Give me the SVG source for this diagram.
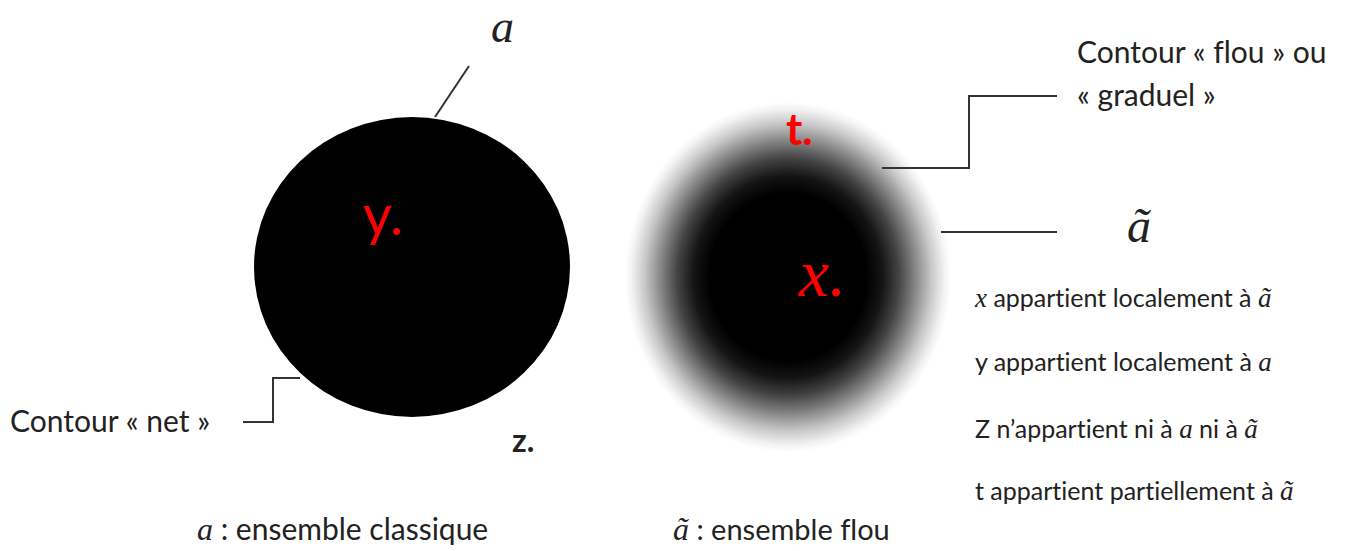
<svg xmlns="http://www.w3.org/2000/svg" width="1345" height="551" viewBox="0 0 1345 551">
<style>
.t{font-family:Lato,"Open Sans","Liberation Sans",sans-serif;fill:#222;font-variant-ligatures:none;font-feature-settings:"liga" 0,"clig" 0}
.m{font-family:"Liberation Serif","DejaVu Serif",serif;font-style:italic}
.ln{fill:none;stroke:#333;stroke-width:2}
.red{fill:#f00}
</style>
<defs>
<radialGradient id="fuzzy" cx="0.5" cy="0.5" r="0.5">
<stop offset="0" stop-color="#000"/>
<stop offset="0.48" stop-color="#000"/>
<stop offset="0.58" stop-color="#151515"/>
<stop offset="0.68" stop-color="#444"/>
<stop offset="0.78" stop-color="#858585"/>
<stop offset="0.88" stop-color="#c8c8c8"/>
<stop offset="0.96" stop-color="#f2f2f2"/>
<stop offset="1" stop-color="#fff"/>
</radialGradient>
</defs>
<rect width="1345" height="551" fill="#fff"/>
<g id="classic-set">
<ellipse cx="412" cy="267" rx="158" ry="150" fill="#000"/>
<text class="t red" x="363" y="235" font-size="56">y.</text>
</g>
<g id="fuzzy-set">
<ellipse cx="788" cy="277" rx="163" ry="175" fill="url(#fuzzy)"/>
<text class="t red" x="786" y="145" font-size="44" font-weight="bold">t.</text>
<text class="m red" x="799" y="296" font-size="68">x.</text>
</g>
<g id="point-z">
<text class="t" x="512" y="452" font-size="32" font-weight="bold" fill="#111">z.</text>
</g>
<g id="connectors">
<path class="ln" d="M435 117 L469 66"/>
<path class="ln" d="M243 422 H273 V378 H300"/>
<path class="ln" d="M882 168 H969 V96 H1057"/>
<path class="ln" d="M941 232 H1057"/>
</g>
<g id="label-a">
<text class="m" x="491" y="42" font-size="46" fill="#222">a</text>
</g>
<g id="label-net">
<text class="t" x="10" y="432" font-size="30">Contour « net »</text>
</g>
<g id="label-flou">
<text class="t" x="1077" y="63" font-size="30">Contour « flou » ou</text>
<text class="t" x="1077" y="106" font-size="30">« graduel »</text>
</g>
<g id="label-atilde">
<text class="m" x="1127" y="242" font-size="48" fill="#222">ã</text>
</g>
<g id="legend">
<text class="t" x="975" y="307" font-size="25"><tspan class="m" font-size="27">x</tspan> appartient localement à <tspan class="m" font-size="27">ã</tspan></text>
<text class="t" x="975" y="371" font-size="25">y appartient localement à <tspan class="m" font-size="27">a</tspan></text>
<text class="t" x="975" y="438" font-size="25">Z n’appartient ni à <tspan class="m" font-size="27">a</tspan> ni à <tspan class="m" font-size="27">ã</tspan></text>
<text class="t" x="975" y="500" font-size="25">t appartient partiellement à <tspan class="m" font-size="27">ã</tspan></text>
</g>
<g id="captions">
<text class="t" x="197" y="540" font-size="30"><tspan class="m" font-size="32">a</tspan> : ensemble classique</text>
<text class="t" x="673" y="540" font-size="29"><tspan class="m" font-size="32">ã</tspan> : ensemble flou</text>
</g>
</svg>
